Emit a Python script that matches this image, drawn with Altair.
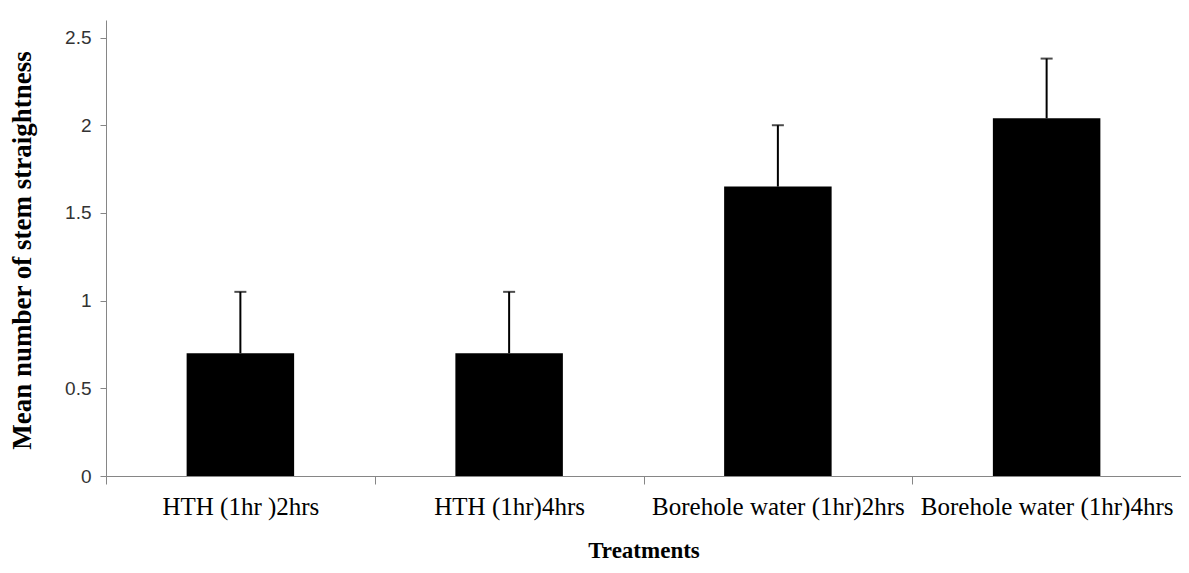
import altair as alt
import pandas as pd

treatments = ["HTH (1hr )2hrs", "HTH (1hr)4hrs", "Borehole water (1hr)2hrs", "Borehole water (1hr)4hrs"]
means = [0.70, 0.70, 1.65, 2.04]
errors = [0.35, 0.35, 0.35, 0.34]

df = pd.DataFrame({
    "Treatment": treatments,
    "Mean": means,
    "Upper": [m + e for m, e in zip(means, errors)],
})

xenc = alt.X(
    "Treatment:N",
    sort=treatments,
    scale=alt.Scale(paddingInner=0, paddingOuter=0),
    axis=alt.Axis(
        title="Treatments",
        labelAngle=0,
        labelFont="Liberation Serif",
        labelFontSize=25,
        labelColor="#000000",
        labelPadding=10,
        labelBaseline="top",
        labelLimit=400,
        tickBand="extent",
        tickSize=8,
        tickColor="#868686",
        domainColor="#868686",
        titleFont="Liberation Serif",
        titleFontSize=23,
        titleFontWeight="bold",
        titleColor="#000000",
        titleY=74,
        titleBaseline="middle",
    ),
)

yscale = alt.Scale(domain=[0, 2.5])
yaxis = alt.Axis(
    title="Mean number of stem straightness",
    values=[0, 0.5, 1, 1.5, 2, 2.5],
    format="~g",
    grid=False,
    labelFont="Liberation Sans",
    labelFontSize=19,
    labelColor="#333333",
    labelPadding=9,
    tickSize=6,
    tickColor="#868686",
    domainColor="#868686",
    titleFont="Liberation Serif",
    titleFontSize=27,
    titleFontWeight="bold",
    titleColor="#000000",
    titleAngle=-90,
    titleX=-84,
    titleY=230,
    titleAlign="center",
    titleBaseline="middle",
)

base = alt.Chart(df)

bars = base.mark_bar(color="#000000", width=alt.RelativeBandSize(0.4)).encode(
    x=xenc,
    y=alt.Y("Mean:Q", scale=yscale, axis=yaxis),
)

stems = base.mark_rule(color="#000000", strokeWidth=2).encode(
    x=alt.X("Treatment:N", sort=treatments),
    y=alt.Y("Mean:Q"),
    y2="Upper:Q",
)

caps = base.mark_tick(color="#000000", thickness=2, size=12, orient="horizontal").encode(
    x=alt.X("Treatment:N", sort=treatments),
    y=alt.Y("Upper:Q"),
)

chart = (
    alt.layer(bars, stems, caps)
    .properties(
        width=1075,
        height=456,
        autosize=alt.AutoSizeParams(type="none"),
        padding={"left": 98, "top": 12, "right": 0, "bottom": 89},
        background="#ffffff",
    )
    .configure_view(stroke=None)
)

chart.save("out.html", embed_options={"renderer": "svg", "actions": False})
